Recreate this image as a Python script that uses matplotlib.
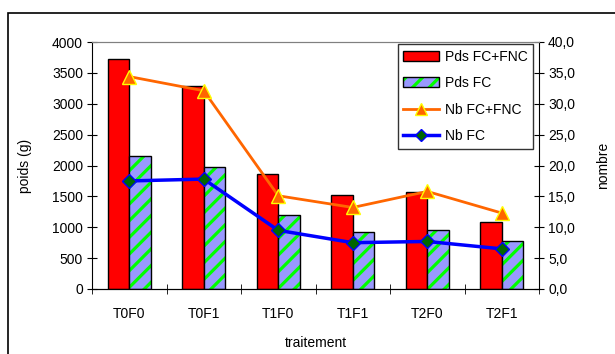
import matplotlib.pyplot as plt
import matplotlib.patches as mpatches
from matplotlib.lines import Line2D
import numpy as np

# Données
traitements = ['T0F0', 'T0F1', 'T1F0', 'T1F1', 'T2F0', 'T2F1']
pds_fc_fnc = [3720, 3290, 1857, 1522, 1566, 1085]
pds_fc = [2154, 1971, 1198, 928, 950, 772]
nb_fc_fnc = [34.4, 32.1, 15.1, 13.2, 15.8, 12.3]
nb_fc = [17.5, 17.8, 9.5, 7.5, 7.7, 6.5]

plt.rcParams['font.family'] = ['Liberation Sans', 'DejaVu Sans']
plt.rcParams['hatch.linewidth'] = 2.3
fs = 10

fig = plt.figure(figsize=(6.15, 3.54), dpi=100)
ax = fig.add_axes([92 / 615, 1 - 289 / 354, 447 / 615, 247 / 354])

# Cadre extérieur (coupé à droite et en bas)
fig.patches.append(mpatches.Rectangle(
    (8 / 615, -0.1), 1.2, 1 - 13 / 354 + 0.1,
    transform=fig.transFigure, fill=False, edgecolor='black', linewidth=1.2
))

x = np.arange(len(traitements))
w = 0.29

# Barres
ax.bar(x - w / 2, pds_fc_fnc, w, color='#FF0000', edgecolor='black', linewidth=1, zorder=2)
ax.bar(x + w / 2, pds_fc, w, color='#9999FF', edgecolor='#00FF00', hatch='//', linewidth=0, zorder=2)
ax.bar(x + w / 2, pds_fc, w, fill=False, edgecolor='black', linewidth=1, zorder=2)

ax.set_xlim(-0.5, len(traitements) - 0.5)
ax.set_ylim(0, 4000)
ax.set_yticks(np.arange(0, 4001, 500))
ax.set_xticks(x)
ax.set_xticklabels(traitements)
ax.set_xticks(np.arange(-0.5, len(traitements), 1), minor=True)
ax.tick_params(axis='x', which='major', length=0, labelsize=fs, pad=13)
ax.tick_params(axis='x', which='minor', length=7, direction='inout')
ax.tick_params(axis='y', length=7, direction='inout', labelsize=fs, pad=3)
ax.set_ylabel('poids (g)', fontsize=fs, labelpad=14)
ax.set_xlabel('traitement', fontsize=fs, labelpad=11)

ax.spines['top'].set_color('#808080')
ax.spines['right'].set_visible(False)

# Axe secondaire
ax2 = ax.twinx()
ax2.set_ylim(0, 40)
ax2.set_yticks(np.arange(0, 41, 5))
ax2.set_yticklabels([f'{v:.1f}'.replace('.', ',') for v in np.arange(0, 41, 5)])
ax2.tick_params(axis='y', length=7, direction='inout', labelsize=fs, pad=3)
ax2.set_ylabel('nombre', fontsize=fs, labelpad=15)
ax2.spines['top'].set_color('#808080')
ax2.spines['left'].set_visible(False)

ax2.plot(x, nb_fc_fnc, color='#FF6600', linewidth=2, marker='^', markersize=10,
         markerfacecolor='#FF6600', markeredgecolor='#FFFF00', markeredgewidth=1, zorder=3)
ax2.plot(x, nb_fc, color='#0000FF', linewidth=2.5, marker='D', markersize=7,
         markerfacecolor='#006600', markeredgecolor='#0000FF', markeredgewidth=1, zorder=3)

# Légende
handles = [
    mpatches.Patch(facecolor='#FF0000', edgecolor='black'),
    (mpatches.Patch(facecolor='#9999FF', edgecolor='#00FF00', hatch='//', linewidth=0),
     mpatches.Patch(fill=False, edgecolor='black')),
    Line2D([], [], color='#FF6600', linewidth=2, marker='^', markersize=9,
           markerfacecolor='#FF6600', markeredgecolor='#FFFF00'),
    Line2D([], [], color='#0000FF', linewidth=2.5, marker='D', markersize=6,
           markerfacecolor='#006600', markeredgecolor='#0000FF'),
]
leg = ax2.legend(handles, ['Pds FC+FNC', 'Pds FC', 'Nb FC+FNC', 'Nb FC'],
                 loc='upper right', bbox_to_anchor=(0.99, 0.997), fontsize=fs,
                 frameon=True, fancybox=False, edgecolor='black', borderaxespad=0.1,
                 handlelength=2.6, labelspacing=0.9, borderpad=0.4, handletextpad=0.4)
leg.get_frame().set_linewidth(1)

fig.savefig('out.png', dpi=100)
